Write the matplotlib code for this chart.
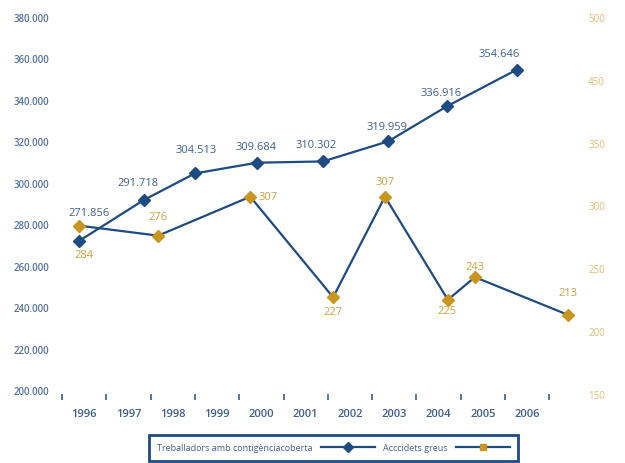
import matplotlib
matplotlib.use("Agg")
import matplotlib.pyplot as plt
from matplotlib.lines import Line2D
from matplotlib.ticker import FixedLocator, FixedFormatter
import numpy as np

plt.rcParams['font.family'] = ['Open Sans', 'DejaVu Sans']

# ---- data ----
years = ['1996', '1997', '1998', '1999', '2000', '2001', '2002', '2003', '2004', '2005', '2006']
# x positions (in year units)
workers_x = [1995.88, 1997.35, 1998.50, 1999.90, 2001.39, 2002.86, 2004.19, 2005.77]
workers = [271856, 291718, 304513, 309684, 310302, 319959, 336916, 354646]
workers_labels = ['271.856', '291.718', '304.513', '309.684', '310.302', '319.959', '336.916', '354.646']

accidents_x = [1995.88, 1997.67, 1999.75, 2001.62, 2002.79, 2004.21, 2004.82, 2006.92]
accidents = [284, 276, 307, 227, 307, 225, 243, 213]

left_ticks = [200000, 220000, 240000, 260000, 280000, 300000, 320000, 340000, 360000, 380000]
left_tick_labels = ['200.000', '220.000', '240.000', '260.000', '280.000', '300.000',
                    '320.000', '340.000', '360.000', '380.000']
right_ticks = [150, 200, 250, 300, 350, 400, 450]
right_tick_labels = ['150', '200', '250', '300', '350', '450', '500']

legend_labels = ['Treballadors amb contigènciacoberta', 'Acccidets greus']

# ---- style ----
NAVY = '#1d4b82'
BLUE_TXT = '#3f5f90'
AXIS_TXT = '#5673a2'
ORANGE = '#c9951f'
ORANGE_TXT = '#d2a03c'
ORANGE_AXIS = '#e3bb75'

W, H = 625, 464
fig = plt.figure(figsize=(W / 100, H / 100), dpi=100)
ax_l, ax_r, ax_b, ax_t = 62, 575, 398, 10
ax = fig.add_axes([ax_l / W, 1 - ax_b / H, (ax_r - ax_l) / W, (ax_b - ax_t) / H])
ax2 = ax.twinx()

# y limits so that 200.000 sits at y=391 px and 380.000 at y=18 px
ppk = (391 - 18) / 180000.0
ax.set_ylim(200000 - (ax_b - 391) / ppk, 380000 + (18 - ax_t) / ppk)
ppr = (395 - 18) / 300.0
ax2.set_ylim(150 - (ax_b - 395) / ppr, 450 + (18 - ax_t) / ppr)

# x: categories centered at year, ticks between
ax.set_xlim(1995.5, 1995.5 + (ax_r - ax_l) / 44.3)

for a in (ax, ax2):
    for s in a.spines.values():
        s.set_visible(False)
    a.set_facecolor('none')

ax.set_xticks(np.arange(1995.5, 2007, 1))
ax.set_xticklabels([])
ax.tick_params(axis='x', which='major', direction='inout', length=5, width=1.2, color=BLUE_TXT)
ax.set_xticks(np.arange(1996, 2007, 1), minor=True)
ax.set_xticklabels(years, minor=True)
ax.tick_params(axis='x', which='minor', length=0, pad=8, labelsize=8, labelcolor=BLUE_TXT)
for t in ax.get_xticklabels(minor=True):
    t.set_fontweight('semibold')

ax.yaxis.set_major_locator(FixedLocator(left_ticks))
ax.yaxis.set_major_formatter(FixedFormatter(left_tick_labels))
ax.tick_params(axis='y', length=0, pad=9, labelsize=7, labelcolor=AXIS_TXT)
for t in ax.get_yticklabels():
    t.set_fontweight('semibold')

ax2.yaxis.set_major_locator(FixedLocator(right_ticks))
ax2.yaxis.set_major_formatter(FixedFormatter(right_tick_labels))
ax2.tick_params(axis='y', length=0, pad=9.5, labelsize=7, labelcolor=ORANGE_AXIS)

# ---- lines ----
ax2.plot(accidents_x, accidents, color=NAVY, lw=1.6, marker='D', ms=6,
         mfc=ORANGE, mec=ORANGE, zorder=3)
ax.plot(workers_x, workers, color=NAVY, lw=1.6, marker='D', ms=6,
        mfc=NAVY, mec=NAVY, zorder=4)
ax.set_zorder(ax2.get_zorder() + 1)

w_off = [(10, 29), (-6, 17), (1, 24), (-1, 16), (-7, 17), (-1, 15), (-6, 14), (-18, 16)]
for xv, yv, lab, (dx, dy) in zip(workers_x, workers, workers_labels, w_off):
    ax.annotate(lab, (xv, yv), xytext=(dx, dy), textcoords='offset pixels',
                ha='center', va='center', fontsize=8, color=BLUE_TXT)

a_off = [(5, -29), (0, 19), (18, 0), (0, -14), (0, 15), (-1, -11), (0, 11), (0, 22)]
for xv, yv, (dx, dy) in zip(accidents_x, accidents, a_off):
    ax2.annotate(str(yv), (xv, yv), xytext=(dx, dy), textcoords='offset pixels',
                 ha='center', va='center', fontsize=8, color=ORANGE_TXT)

# ---- legend ----
handles = [Line2D([], [], color=NAVY, lw=1.6, marker='D', ms=5, mfc=NAVY, mec=NAVY),
           Line2D([], [], color=NAVY, lw=1.6, marker='s', ms=5, mfc=ORANGE, mec=ORANGE)]
leg = fig.legend(handles, legend_labels, loc='center',
                 bbox_to_anchor=(333.5 / W, 1 - 449 / H), ncol=2, markerfirst=False,
                 fontsize=6.5, handlelength=6, handletextpad=1.0, columnspacing=0.8,
                 borderpad=0.9, fancybox=False, framealpha=1)
leg.get_frame().set_edgecolor(NAVY)
leg.get_frame().set_linewidth(2.0)
for t in leg.get_texts():
    t.set_color(BLUE_TXT)

fig.savefig('out.png', dpi=100)
